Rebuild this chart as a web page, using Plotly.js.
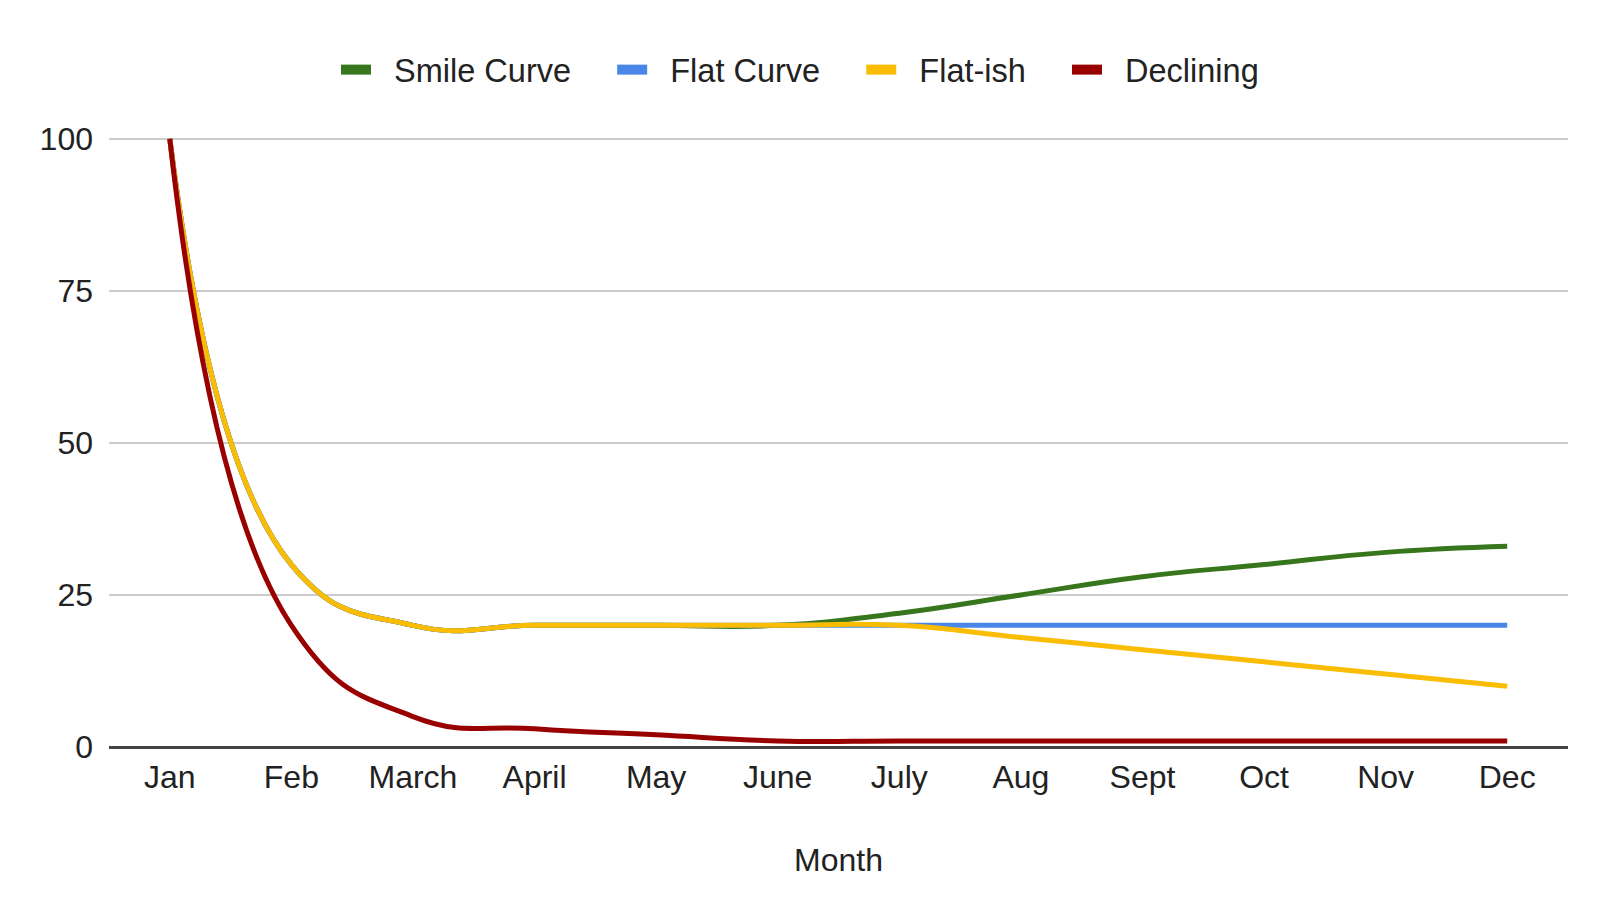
<!DOCTYPE html>
<html>
<head>
<meta charset="utf-8">
<script src="https://cdn.plot.ly/plotly-3.0.1.min.js"></script>
<style>
  html, body { margin: 0; padding: 0; background: #fff; }
  #chart { width: 1600px; height: 924px; }
</style>
</head>
<body>
<div id="chart"></div>
<script>
const months = ['Jan', 'Feb', 'March', 'April', 'May', 'June', 'July', 'Aug', 'Sept', 'Oct', 'Nov', 'Dec'];

const seriesNames = ['Smile Curve', 'Flat Curve', 'Flat-ish', 'Declining'];
const smileCurve = [100, 30, 20, 20, 20, 20, 22, 25, 28, 30, 32, 33];
const flatCurve = [100, 30, 20, 20, 20, 20, 20, 20, 20, 20, 20, 20];
const flatIsh = [100, 30, 20, 20, 20, 20, 20, 18, 16, 14, 12, 10];
const declining = [100, 20, 5, 3, 2, 1, 1, 1, 1, 1, 1, 1];

const yTicks = [0, 25, 50, 75, 100];

const colors = ['#38761d', '#4a86e8', '#fbbc04', '#990000'];
const font = 'Liberation Sans, Arial, sans-serif';
const nb = '\u00a0';

let values = [smileCurve, flatCurve, flatIsh, declining];

// the real lines, kept out of the legend
let lines = values.map((v, i) => ({
  x: months,
  y: v,
  type: 'scatter',
  mode: 'lines',
  name: seriesNames[i],
  line: { color: colors[i], width: 5, shape: 'spline', smoothing: 1.3 },
  showlegend: false,
  hoverinfo: 'x+y+name',
}));

// legend-only entries so the swatches can be thick
let legendItems = seriesNames.map((n, i) => ({
  x: [null],
  y: [null],
  type: 'scatter',
  mode: 'lines',
  name: nb + nb + n + (i < seriesNames.length - 1 ? nb + nb + nb + nb : ''),
  line: { color: colors[i], width: 12 },
  hoverinfo: 'skip',
}));

let layout = {
  width: 1600,
  height: 924,
  margin: { l: 109, r: 32, t: 137, b: 177 },
  paper_bgcolor: '#fff',
  plot_bgcolor: '#fff',
  font: { family: font, size: 32, color: '#222' },
  showlegend: true,
  legend: {
    orientation: 'h',
    xref: 'container',
    yref: 'container',
    x: 0.5,
    xanchor: 'center',
    y: 1 - 70 / 924,
    yanchor: 'middle',
    font: { family: font, size: 32.5, color: '#222' },
  },
  xaxis: {
    type: 'category',
    range: [-0.5, 11.5],
    showgrid: false,
    zeroline: false,
    showline: false,
    ticks: '',
    tickfont: { size: 32, color: '#222' },
    ticklabelstandoff: 8,
    title: { text: 'Month', font: { size: 32, color: '#222' }, standoff: 54 },
  },
  yaxis: {
    range: [0, 100.3],
    tickvals: yTicks,
    ticks: '',
    showgrid: true,
    gridcolor: '#cccccc',
    gridwidth: 2,
    zeroline: true,
    zerolinecolor: '#444444',
    zerolinewidth: 3,
    showline: false,
    tickfont: { size: 32, color: '#222' },
    ticklabelstandoff: 15,
  },
};

Plotly.newPlot('chart', [...lines, ...legendItems], layout, { displayModeBar: false });
</script>
</body>
</html>
